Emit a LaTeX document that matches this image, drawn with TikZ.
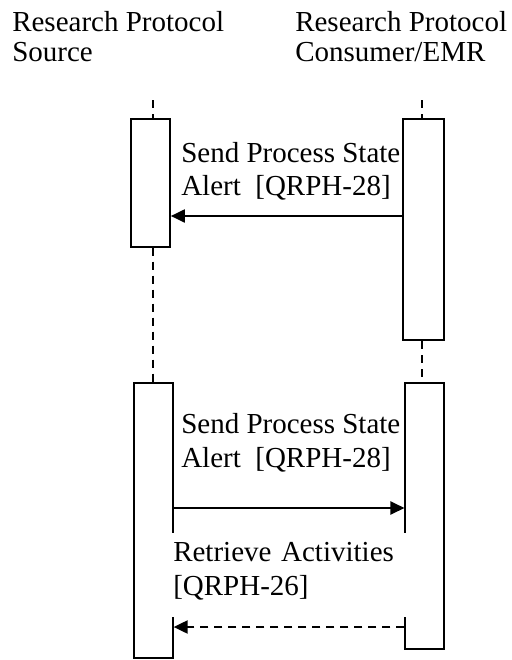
\documentclass[tikz,border=0pt]{standalone}
\usepackage{fontspec}
\setmainfont{Liberation Serif}
\usetikzlibrary{arrows.meta}
\begin{document}
\begin{tikzpicture}[x=0.75pt,y=-0.75pt,
  actbox/.style={draw,line width=1.5pt,inner sep=0pt,minimum width=29pt},
  lifeline/.style={line width=1.5pt,dash pattern=on 6pt off 4.5pt},
  msg/.style={line width=1.5pt,-{Triangle[length=10.5pt,width=9.75pt]}},
  lbl/.style={inner sep=0pt,align=left,anchor=base west,font=\fontsize{21.75}{25}\selectfont}]
\useasboundingbox (0,0) rectangle (511,660);

% the two parties (base = last line)
\node[lbl,font=\fontsize{21.75}{22.5}\selectfont] (src) at (12,61.7) {Research Protocol\\Source};
\node[lbl,font=\fontsize{21.75}{22.5}\selectfont] (con) at (295,61.7) {Research Protocol\\Consumer/EMR};

% activation boxes
\node[actbox,minimum height=95.5pt] (srcA) at (150.5,183) {};
\node[actbox,minimum width=31pt,minimum height=165.5pt] (conA) at (423.3,229.7) {};
\node[actbox,minimum height=206.5pt] (srcB) at (153.3,520.3) {};
\node[actbox,minimum height=199.7pt] (conB) at (424.8,515.8) {};

% lifelines
\coordinate (srcTop) at (153.3,100);
\coordinate (conTop) at (422.3,100);
\draw[lifeline] (srcTop) -- (srcTop |- srcA.north);
\draw[lifeline] (srcTop |- srcA.south) -- (srcTop |- srcB.north);
\draw[lifeline] (conTop) -- (conTop |- conA.north);
\draw[lifeline] (conTop |- conA.south) -- (conTop |- conB.north);

% messages
\coordinate (m1) at (0,216);
\draw[msg] (conA.west |- m1) -- (srcA.east |- m1);
\node[lbl] (t1) at (181,195.5) {Send Process State\\Alert\ \ [QRPH-28]};

\coordinate (m2) at (0,508);
\draw[msg] (srcB.east |- m2) -- (conB.west |- m2);
\node[lbl] (t2) at (181,467) {Send Process State\\Alert\ \ [QRPH-28]};

\coordinate (m3) at (0,627);
\draw[msg,dash pattern=on 6pt off 4.5pt] (conB.west |- m3) -- (srcB.east |- m3);
\node[lbl,fill=white,anchor=north west,inner xsep=2.25pt,text width=175.5pt,
  text height=21.5pt,text depth=41.5pt] (t3) at (170,533) {Retrieve Activities\\{[QRPH-26]}};

\end{tikzpicture}
\end{document}
